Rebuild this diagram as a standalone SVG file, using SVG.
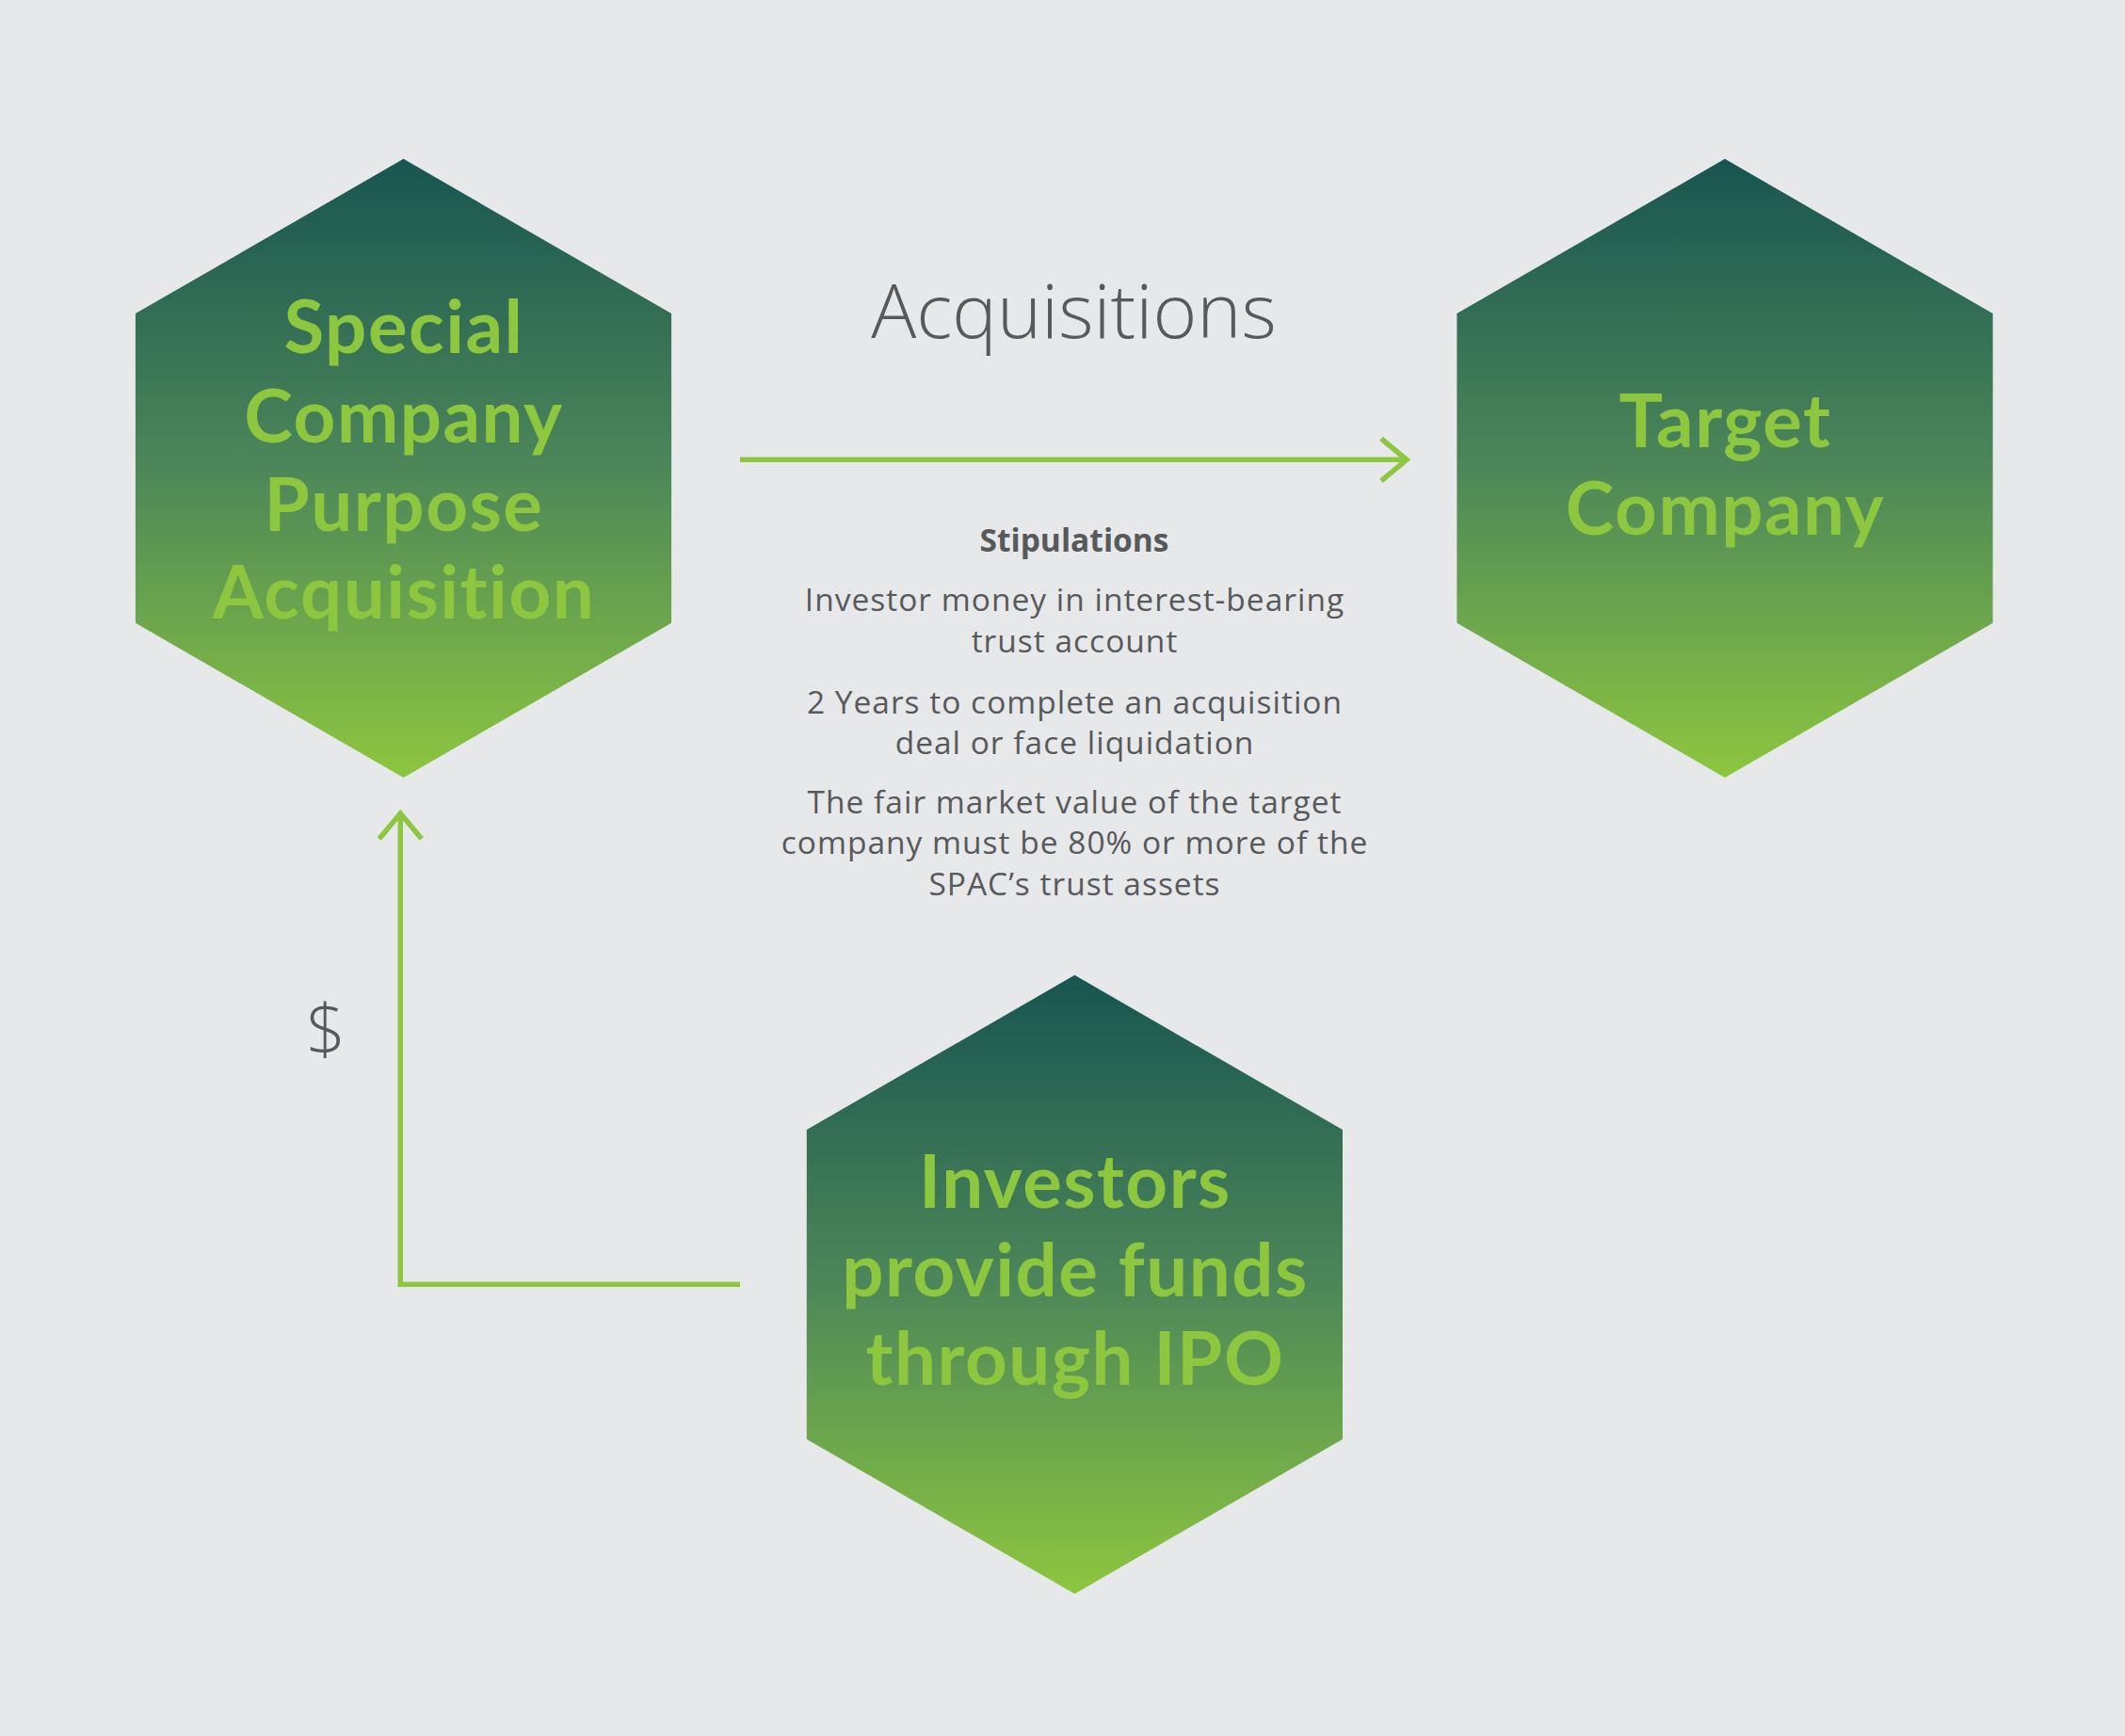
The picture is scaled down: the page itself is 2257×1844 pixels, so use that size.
<svg xmlns="http://www.w3.org/2000/svg" width="2257" height="1844" viewBox="0 0 2257 1844">
<style>
.bg{fill:#e7e8ea}
.hex{fill:url(#hexGrad)}
.htxt{font-family:Lato,"Open Sans","Liberation Sans",sans-serif;font-weight:700;font-size:78px;letter-spacing:1.5px;font-variant-ligatures:none;fill:#8dc63f;text-anchor:middle}
.conn{fill:none;stroke:#8dc63f;stroke-width:5.5}
.head{font-family:"Open Sans","Liberation Sans",sans-serif;font-weight:300;font-size:80px;fill:#58595b;text-anchor:middle}
.stip{font-family:"Open Sans","Liberation Sans",sans-serif;font-size:33.5px;letter-spacing:1px;fill:#58595b;text-anchor:middle}
.stipb{font-weight:700;letter-spacing:0}
</style>
<defs>
<linearGradient id="hexGrad" x1="0" y1="0" x2="0" y2="1">
<stop offset="0" stop-color="#185551"/>
<stop offset="0.5" stop-color="#4d8759"/>
<stop offset="1" stop-color="#8dc63f"/>
</linearGradient>
<marker id="chev" markerUnits="userSpaceOnUse" orient="auto" refX="0" refY="0" markerWidth="60" markerHeight="60" overflow="visible">
<path d="M -27 -22.5 L 0 0 L -27 22.5" fill="none" stroke="#8dc63f" stroke-width="5.5"/>
</marker>
</defs>
<rect class="bg" x="0" y="0" width="2257" height="1844"/>

<g id="connectors">
<path class="conn" d="M 786 488.3 L 1494 488.3" marker-end="url(#chev)"/>
<path class="conn" d="M 786 1364.3 L 425.3 1364.3 L 425.3 864" marker-end="url(#chev)"/>
</g>

<g id="spac">
<polygon class="hex" points="428.5,168.8 713.1,333.1 713.1,661.7 428.5,826 143.9,661.7 143.9,333.1"/>
<text class="htxt" x="429" y="375.4">Special</text>
<text class="htxt" x="429" y="470">Company</text>
<text class="htxt" x="429" y="563.8">Purpose</text>
<text class="htxt" x="429" y="656.7">Acquisition</text>
</g>

<g id="target">
<polygon class="hex" points="1832,168.8 2116.6,333.1 2116.6,661.7 1832,826 1547.4,661.7 1547.4,333.1"/>
<text class="htxt" x="1832.5" y="475">Target</text>
<text class="htxt" x="1832.5" y="568.3">Company</text>
</g>

<g id="investors">
<polygon class="hex" points="1141.4,1035.8 1426,1200.1 1426,1528.7 1141.4,1693 856.8,1528.7 856.8,1200.1"/>
<text class="htxt" x="1142" y="1283.4">Investors</text>
<text class="htxt" x="1142" y="1377">provide funds</text>
<text class="htxt" x="1142" y="1471">through IPO</text>
</g>

<g id="labels">
<text class="head" x="1140.5" y="359">Acquisitions</text>
<text class="stip stipb" x="1141" y="585.5">Stipulations</text>
<text class="stip" x="1141.5" y="649.3">Investor money in interest-bearing</text>
<text class="stip" x="1141.5" y="693.3">trust account</text>
<text class="stip" x="1141.5" y="757.7">2 Years to complete an acquisition</text>
<text class="stip" x="1141.5" y="800.5">deal or face liquidation</text>
<text class="stip" x="1141.5" y="864.3">The fair market value of the target</text>
<text class="stip" x="1141.5" y="906.7">company must be 80% or more of the</text>
<text class="stip" x="1141.5" y="950.7">SPAC’s trust assets</text>
<text class="head" x="346" y="1120" style="font-size:74px">$</text>
</g>
</svg>
